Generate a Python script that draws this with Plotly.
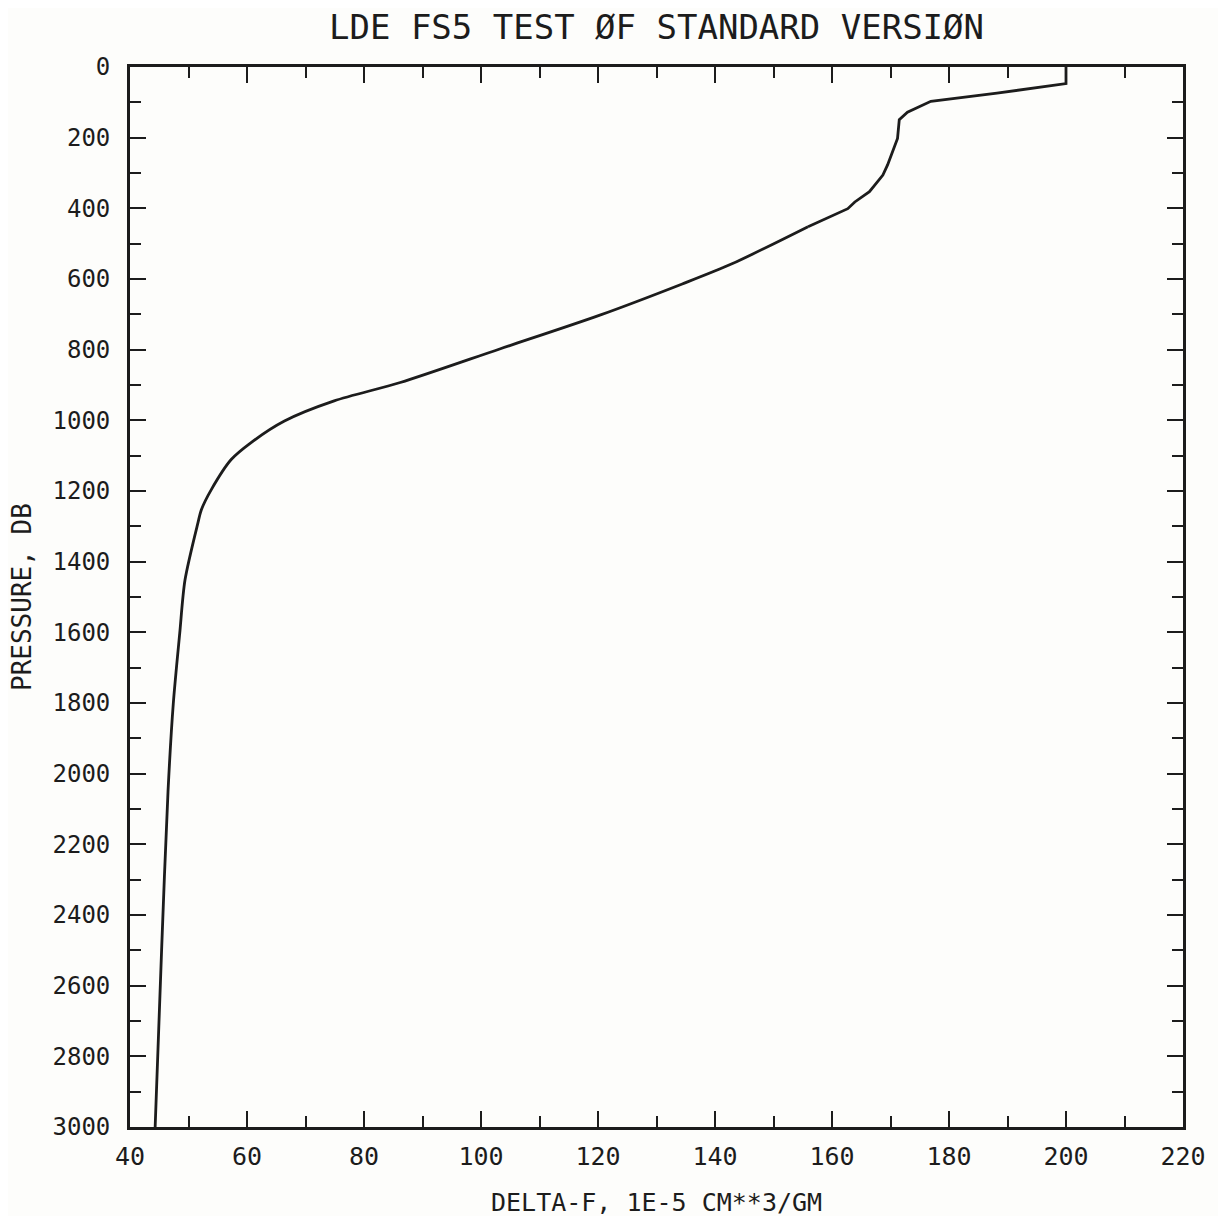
import plotly.graph_objects as go

# Data
pressure = [0, 47, 74, 97, 128, 149, 202, 239, 277, 306, 353, 382, 401, 452, 557, 614,
            703, 798, 893, 945, 1002, 1063, 1111, 1196, 1253, 1291, 1452, 1603, 1802,
            2050, 2500, 3000]
delta_f = [200.0, 200.0, 188.2, 176.9, 172.9, 171.5, 171.2, 170.4, 169.5, 168.7, 166.4,
           163.9, 162.7, 155.9, 142.9, 134.4, 120.2, 103.2, 86.2, 74.9, 66.4, 60.7, 57.3,
           53.9, 52.2, 51.6, 49.4, 48.5, 47.4, 46.5, 45.4, 44.3]

x_ticks = list(range(40, 221, 20))
y_ticks = list(range(0, 3001, 200))

title = "LDE FS5 TEST ØF STANDARD VERSIØN"
x_title = "DELTA-F, 1E-5 CM**3/GM"
y_title = "PRESSURE, DB"

FONT = "DejaVu Sans Mono"
INK = "#1c1c1c"

# upper (piecewise) part drawn straight, deeper part smoothed
SPLIT = 13

fig = go.Figure()
fig.add_trace(go.Scatter(x=delta_f[:SPLIT + 1], y=pressure[:SPLIT + 1], mode="lines",
                         line=dict(color=INK, width=2.8), hoverinfo="skip"))
fig.add_trace(go.Scatter(x=delta_f[SPLIT:], y=pressure[SPLIT:], mode="lines",
                         line=dict(color=INK, width=2.8, shape="spline", smoothing=0.8),
                         hoverinfo="skip"))

fig.update_layout(
    width=1210, height=1208,
    margin=dict(l=122, r=29, t=59, b=89),
    paper_bgcolor="#fdfdfb", plot_bgcolor="#fdfdfb",
    showlegend=False,
    font=dict(family=FONT, color=INK),
    annotations=[
        dict(text=title, xref="paper", yref="paper", x=0.5, y=1, yshift=40,
             showarrow=False, font=dict(family=FONT, size=34, color=INK),
             xanchor="center", yanchor="middle"),
        dict(text=x_title, xref="paper", yref="paper", x=0.5, y=0, yshift=-75,
             showarrow=False, font=dict(family=FONT, size=25, color=INK),
             xanchor="center", yanchor="middle"),
        dict(text=y_title, xref="paper", yref="paper", x=0, xshift=-108, y=0.5,
             yshift=0, textangle=-90,
             showarrow=False, font=dict(family=FONT, size=26, color=INK),
             xanchor="center", yanchor="middle"),
    ],
)

fig.update_xaxes(
    range=[40, 220], tickvals=x_ticks, ticktext=[str(v) for v in x_ticks],
    ticks="inside", ticklen=16, tickwidth=2.2, tickcolor=INK,
    minor=dict(dtick=10, tick0=40, ticks="inside", ticklen=11, tickwidth=2.2, tickcolor=INK),
    showline=True, linecolor=INK, linewidth=2.8, mirror="ticks",
    showgrid=False, zeroline=False, ticklabelstandoff=5,
    tickfont=dict(family=FONT, size=25, color=INK),
)
fig.update_yaxes(
    range=[3000, 0], tickvals=y_ticks, ticktext=[str(v) for v in y_ticks],
    ticks="inside", ticklen=16, tickwidth=2.2, tickcolor=INK,
    minor=dict(dtick=100, tick0=0, ticks="inside", ticklen=11, tickwidth=2.2, tickcolor=INK),
    showline=True, linecolor=INK, linewidth=2.8, mirror="ticks",
    showgrid=False, zeroline=False, ticklabelstandoff=12,
    tickfont=dict(family=FONT, size=24, color=INK),
)

fig.write_html("out.html")
